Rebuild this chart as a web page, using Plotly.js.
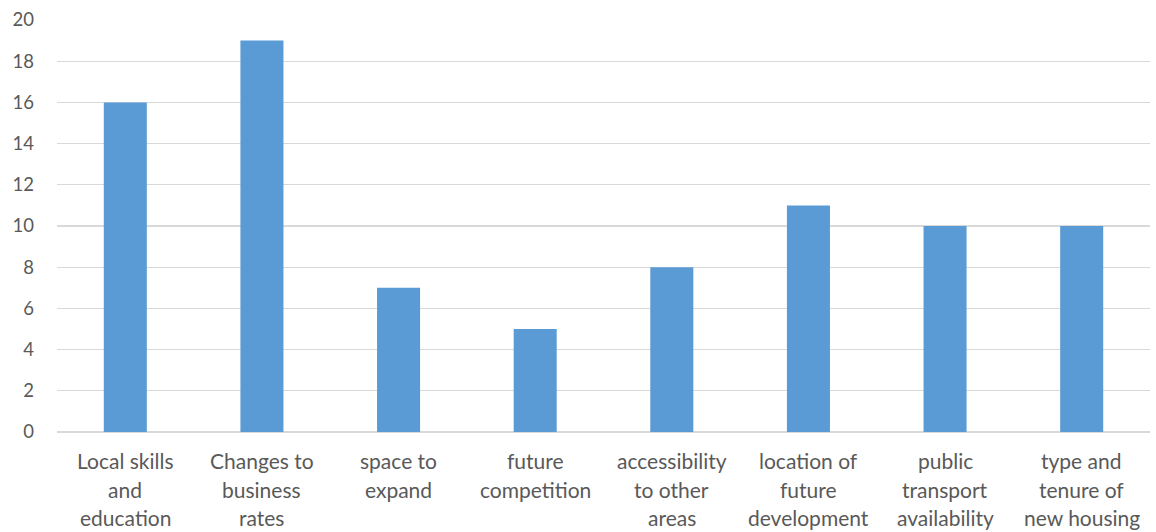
<!DOCTYPE html>
<html>
<head>
<meta charset="utf-8">
<script src="https://cdn.plot.ly/plotly-3.0.1.min.js"></script>
<style>
  html, body { margin: 0; padding: 0; background: #ffffff; }
  #chart { width: 1156px; height: 532px; }
</style>
</head>
<body>
<div id="chart"></div>
<script>
// Factors rated by respondents
const categories = [
  'Local skills and education',
  'Changes to business rates',
  'space to expand',
  'future competition',
  'accessibility to other areas',
  'location of future development',
  'public transport availability',
  'type and tenure of new housing'
];
// Wrapped label lines for each category
const labelLines = [
  ['Local skills', 'and', 'education'],
  ['Changes to', 'business', 'rates'],
  ['space to', 'expand'],
  ['future', 'competition'],
  ['accessibility', 'to other', 'areas'],
  ['location of', 'future', 'development'],
  ['public', 'transport', 'availability'],
  ['type and', 'tenure of', 'new housing']
];
const counts = [16, 19, 7, 5, 8, 11, 10, 10];
const yTicks = [0, 2, 4, 6, 8, 10, 12, 14, 16, 18, 20];

const FONT = 'Lato, "Open Sans", "Liberation Sans", sans-serif';
const TEXT = '#595959';

// Category labels as stacked single-line annotations for wider line spacing.
// Paper y is measured over the plot area: 0 at its bottom, 1 at its top.
const plotTop = 20, plotBottom = 432;
const lineY = [460, 489, 517];
const annotations = [];
labelLines.forEach((lines, i) => {
  lines.forEach((t, j) => {
    annotations.push({
      x: categories[i], xref: 'x',
      y: (plotBottom - lineY[j]) / (plotBottom - plotTop), yref: 'paper',
      yanchor: 'middle', xanchor: 'center',
      text: t, showarrow: false,
      font: { family: FONT, size: 21, color: TEXT }
    });
  });
});

const data = [{
  type: 'bar',
  x: categories,
  y: counts,
  marker: { color: '#5b9bd5' },
  hoverinfo: 'x+y'
}];

const layout = {
  width: 1156, height: 532,
  margin: { l: 57, r: 6, t: plotTop, b: 532 - plotBottom },
  paper_bgcolor: '#ffffff', plot_bgcolor: '#ffffff',
  bargap: 0.685,
  showlegend: false,
  xaxis: {
    type: 'category',
    showticklabels: false,
    ticks: '',
    showgrid: false,
    zeroline: false,
    showline: false
  },
  yaxis: {
    range: [0, 20],
    tickvals: yTicks,
    ticktext: yTicks.map(String),
    ticks: '',
    ticklabelstandoff: 22,
    showgrid: true,
    gridcolor: '#d9d9d9',
    gridwidth: 1.3,
    zeroline: true,
    zerolinecolor: '#d9d9d9',
    zerolinewidth: 1.3,
    showline: false,
    tickfont: { family: FONT, size: 18.5, color: TEXT }
  },
  annotations: annotations
};

Plotly.newPlot('chart', data, layout, { displayModeBar: false, staticPlot: true });
</script>
</body>
</html>
